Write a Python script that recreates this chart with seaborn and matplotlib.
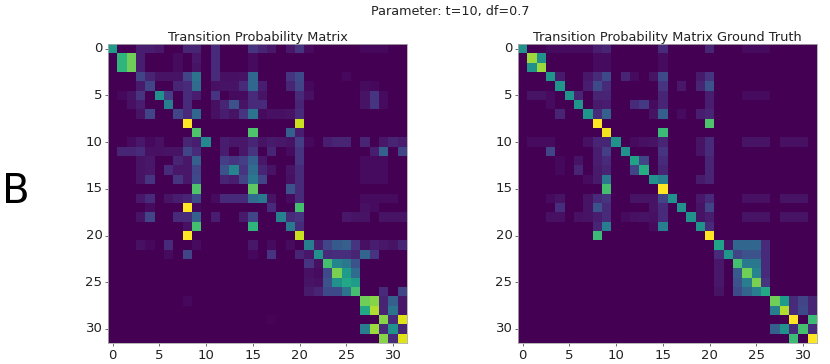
#Transition probability matrices, model vs ground truth

import numpy as np
import matplotlib
matplotlib.use("Agg")
import matplotlib.pyplot as plt
import seaborn as sns

# one dict per row, column index -> value in hundredths
model_rows = [
    {0:55, 3:8, 4:8, 5:6, 8:10, 9:10, 11:12, 15:15, 16:10, 17:6, 19:6, 20:15, 21:3, 27:2, 28:2, 29:2},
    {1:65, 2:78, 3:8, 7:3, 9:6, 11:12, 15:3},
    {1:65, 2:78, 3:8, 7:3, 9:5, 11:12, 15:3},
    {3:20, 4:10, 5:5, 6:5, 7:5, 8:20, 9:38, 11:12, 12:4, 13:4, 14:5, 15:33, 19:15, 20:22, 25:2},
    {3:7, 4:20, 7:10, 8:12, 9:35, 11:4, 12:5, 13:5, 14:12, 15:33, 16:8, 19:10, 20:20, 21:2, 27:3, 28:2},
    {1:2, 2:5, 3:15, 5:50, 6:18, 8:12, 9:8, 11:15, 13:3, 14:3, 15:12, 16:5, 20:12, 21:4, 27:5, 28:15, 29:3},
    {2:4, 3:8, 6:42, 8:12, 11:4, 12:10, 13:25, 14:5, 15:12, 16:12, 20:10, 27:5, 28:15, 29:3},
    {3:5, 4:20, 7:20, 8:12, 9:33, 11:4, 12:8, 13:5, 14:15, 15:38, 16:3, 17:4, 18:4, 19:5, 20:12},
    {8:100, 20:92},
    {9:72, 15:72, 19:30, 20:8},
    {2:3, 3:6, 4:2, 5:4, 8:10, 9:8, 10:47, 12:8, 13:6, 14:6, 15:10, 16:5, 17:7, 18:6, 19:5, 20:18, 21:2, 23:8, 24:10, 25:10, 27:10, 29:6, 30:10, 31:8},
    {1:10, 2:10, 3:12, 4:4, 5:4, 6:5, 7:5, 8:20, 9:12, 12:8, 14:6, 15:15, 17:10, 19:3, 20:15, 28:8, 29:30, 31:20},
    {3:5, 4:6, 7:10, 8:6, 9:30, 12:18, 13:15, 14:18, 15:30, 16:6, 20:15, 27:3, 28:3, 29:3},
    {3:5, 4:6, 6:12, 7:6, 8:6, 9:20, 12:25, 13:45, 14:15, 15:35, 16:10, 17:5, 19:5, 20:12, 27:3, 28:3, 29:3},
    {3:5, 4:15, 7:15, 8:6, 9:22, 12:10, 13:8, 14:20, 15:40, 16:20, 19:4, 20:12, 27:3, 28:3, 29:3},
    {9:72, 15:75, 19:25, 20:12},
    {3:6, 4:12, 6:5, 7:8, 8:10, 9:22, 11:3, 12:12, 13:12, 14:12, 15:35, 16:40, 17:5, 19:3, 20:12, 27:3, 28:3, 29:3, 30:3},
    {4:3, 8:100, 9:2, 17:12, 20:70, 27:4, 28:3},
    {3:5, 4:20, 7:12, 8:12, 9:30, 11:8, 14:7, 15:20, 18:43, 19:12, 20:15, 25:6, 26:5, 27:5, 29:5, 30:5, 31:5},
    {8:4, 9:70, 15:65, 19:40, 20:12},
    {8:100, 20:92},
    {3:4, 4:2, 6:12, 9:3, 15:6, 17:3, 19:3, 21:42, 22:8, 23:20, 24:28, 25:30, 26:15, 27:4, 28:8, 29:6, 30:5, 31:10},
    {6:3, 8:20, 15:2, 17:15, 20:10, 21:6, 22:50, 23:12, 24:13, 25:13, 26:10, 27:32, 28:15},
    {21:15, 22:4, 23:70, 24:45, 25:40, 26:25},
    {21:4, 22:3, 23:22, 24:80, 25:55, 26:35},
    {21:5, 22:4, 23:25, 24:50, 25:60, 26:55},
    {21:7, 22:10, 23:22, 24:22, 25:38, 26:70, 29:12, 31:20},
    {8:2, 27:78, 28:82, 29:10, 30:30, 31:6},
    {27:60, 28:88, 29:10, 30:38, 31:6},
    {17:1, 29:82, 30:12, 31:95},
    {27:42, 28:85, 29:12, 30:50, 31:10},
    {29:82, 30:12, 31:95},
]

truth_rows = [
    {0:50, 3:3, 4:3, 5:3, 6:3, 7:3, 8:8, 9:10, 15:12, 20:10, 24:3, 25:3, 26:3},
    {1:85, 2:50, 8:3, 9:3, 15:3},
    {1:50, 2:85, 8:3, 9:3, 15:3},
    {3:52, 4:7, 7:6, 8:12, 9:22, 11:10, 12:3, 14:5, 15:22, 19:7, 20:15},
    {4:52, 7:8, 8:22, 9:12, 15:15, 17:6, 19:10, 20:25},
    {1:5, 2:5, 3:3, 5:52, 6:10, 8:10, 9:10, 15:10, 20:8, 24:3, 25:3, 26:3},
    {3:3, 6:52, 8:7, 9:8, 12:12, 13:17, 14:3, 15:10, 20:8},
    {4:10, 7:52, 8:12, 9:30, 14:5, 15:30, 17:3, 19:8, 20:10},
    {8:100, 20:72},
    {9:98, 15:68},
    {1:3, 2:3, 3:3, 7:4, 8:10, 9:10, 10:50, 12:3, 13:4, 14:5, 15:10, 19:5, 20:12, 24:5, 25:5, 26:5, 28:4, 29:4, 30:4},
    {3:20, 8:8, 9:18, 11:50, 15:15, 19:5, 20:12},
    {4:2, 6:5, 8:8, 9:12, 12:58, 13:20, 15:12, 20:10},
    {4:2, 6:10, 8:7, 9:10, 12:20, 13:62, 15:10, 20:10},
    {7:3, 8:7, 9:40, 14:50, 15:42, 19:7, 20:10},
    {9:70, 15:100},
    {3:3, 4:5, 7:5, 8:12, 9:15, 12:5, 13:5, 14:5, 15:20, 16:50, 19:6, 20:12, 24:4, 25:4, 26:4, 28:5, 29:5, 30:5},
    {4:13, 7:5, 8:25, 9:12, 14:5, 15:12, 17:50, 19:5, 20:20},
    {3:4, 4:4, 6:4, 7:5, 8:8, 9:12, 11:3, 12:4, 13:5, 14:4, 15:12, 18:50, 19:5, 20:8, 24:5, 25:5, 26:5, 28:5, 29:5, 30:5},
    {8:10, 9:42, 14:3, 15:42, 19:50, 20:12},
    {8:68, 20:100},
    {21:58, 22:5, 23:33, 24:33, 25:33, 26:12},
    {21:12, 22:52, 23:20, 24:25, 25:25, 26:12},
    {21:6, 23:70, 24:40, 25:40, 26:12},
    {21:6, 23:28, 24:78, 25:45, 26:12},
    {21:6, 23:25, 24:42, 25:80, 26:15},
    {21:5, 23:22, 24:32, 25:42, 26:60},
    {27:78, 28:55, 29:12, 30:20, 31:10},
    {27:42, 28:88, 29:12, 30:22, 31:10},
    {29:100, 31:68},
    {27:30, 28:50, 29:12, 30:70, 31:12},
    {29:68, 31:100},
]

titles = ["Transition Probability Matrix", "Transition Probability Matrix Ground Truth"]
tick_labels = [0, 5, 10, 15, 20, 25, 30]


def to_matrix(rows):
    mat = np.zeros((len(rows), len(rows)))
    for i, row in enumerate(rows):
        for j, val in row.items():
            mat[i, j] = val / 100
    return mat


fig = plt.figure(figsize=(8.3, 3.64), dpi=100)
boxes = [[108/830, 1 - 343/364, 299/830, 299/364], [518/830, 1 - 343/364, 299/830, 299/364]]

for rows, title, box in zip([model_rows, truth_rows], titles, boxes):
    ax = fig.add_axes(box)
    sns.heatmap(to_matrix(rows), cmap="viridis", vmin=0, vmax=1, cbar=False, ax=ax)
    ax.set_xticks([t + 0.5 for t in tick_labels])
    ax.set_xticklabels(tick_labels, rotation=0, fontsize=9.5, color="#222222")
    ax.set_yticks([t + 0.5 for t in tick_labels])
    ax.set_yticklabels(tick_labels, rotation=0, fontsize=9.5, color="#222222")
    ax.tick_params(length=2.5, width=0.6, pad=1.5, color="#555555")
    ax.set_title(title, fontsize=9.3, pad=2.5, color="#222222")
    for s in ax.spines.values():
        s.set_visible(True)
        s.set_color("#aaaaaa")
        s.set_linewidth(0.6)

fig.text(450/830, 1 - 11/364, "Parameter: t=10, df=0.7", ha="center", va="center", fontsize=9.2, color="#222222")
fig.text(16/830, 1 - 192/364, "B", ha="center", va="center", fontsize=29, color="black")

fig.savefig("out.png", dpi=100)
